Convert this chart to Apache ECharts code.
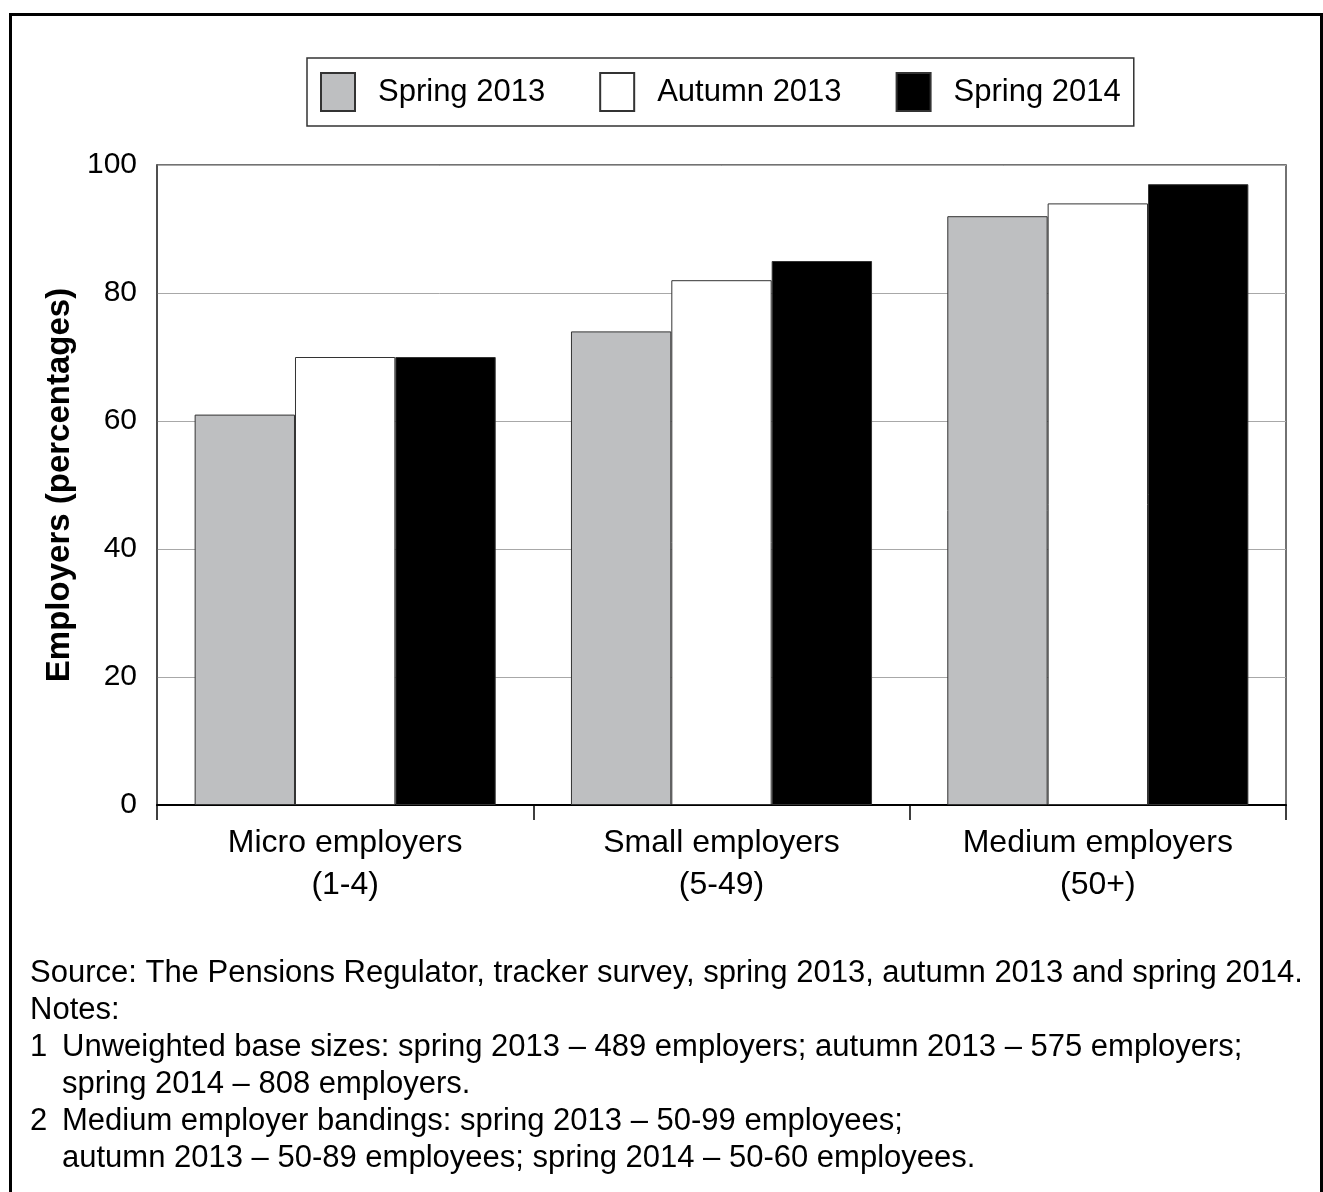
<!DOCTYPE html>
<html>
<head>
<meta charset="utf-8">
<title>Employers by size band</title>
<script src="https://cdn.jsdelivr.net/npm/echarts@6/dist/echarts.min.js"></script>
<style>
  html, body { margin: 0; padding: 0; background: #fff; }
  #chart { width: 1323px; height: 1192px; }
</style>
</head>
<body>
<div id="chart"></div>
<script>
// Employer size bands (x axis)
const categories = ['Micro employers\n(1-4)', 'Small employers\n(5-49)', 'Medium employers\n(50+)'];

// Survey waves and their values (percentage of employers)
const seriesNames = ['Spring 2013', 'Autumn 2013', 'Spring 2014'];
const spring2013 = [61, 74, 92];
const autumn2013 = [70, 82, 94];
const spring2014 = [70, 85, 97];

// Y axis scale
const yMin = 0;
const yMax = 100;
const yStep = 20;

// Source and notes under the chart
const sourceLine = 'Source: The Pensions Regulator, tracker survey, spring 2013, autumn 2013 and spring 2014.';
const notesHeading = 'Notes:';
const noteNumbers = ['1', '2'];
const noteLines = [
  ['Unweighted base sizes: spring 2013 \u2013 489 employers; autumn 2013 \u2013 575 employers;',
   'spring 2014 \u2013 808 employers.'],
  ['Medium employer bandings: spring 2013 \u2013 50-99 employees;',
   'autumn 2013 \u2013 50-89 employees; spring 2014 \u2013 50-60 employees.']
];

const FONT = "'Liberation Sans', Arial, Helvetica, sans-serif";
const fills = ['#bebfc1', '#ffffff', '#000000'];
const values = [spring2013, autumn2013, spring2014];

const chart = echarts.init(document.getElementById('chart'), null, { renderer: 'canvas' });

// Footer text elements
const footer = [];
const textStyleBase = { fontFamily: FONT, fontSize: 31, fill: '#000' };
let y = 973;
const lineStep = 37;
function footText(x, yc, text) {
  footer.push({ type: 'text', x: x, y: yc, style: Object.assign({ text: text, verticalAlign: 'middle' }, textStyleBase) });
}
footText(30, y, sourceLine);
y += lineStep;
footText(30, y, notesHeading);
y += lineStep;
noteLines.forEach((lines, i) => {
  footText(30, y, noteNumbers[i]);
  lines.forEach((ln) => {
    footText(62, y, ln);
    y += lineStep;
  });
});

const option = {
  backgroundColor: '#ffffff',
  animation: false,
  textStyle: { fontFamily: FONT, color: '#000' },
  legend: {
    data: seriesNames,
    left: 307,
    top: 58,
    padding: [14, 13, 14, 13],
    itemGap: 54,
    itemWidth: 34,
    itemHeight: 38,
    borderColor: '#333',
    borderWidth: 1.5,
    selectedMode: false,
    icon: 'rect',
    textStyle: { fontFamily: FONT, fontSize: 31, color: '#000', padding: [0, 0, 6, 18] }
  },
  grid: {
    left: 157,
    right: 37,
    top: 165,
    bottom: 387,
    show: true,
    borderColor: '#444',
    borderWidth: 1.5,
    backgroundColor: 'transparent'
  },
  xAxis: {
    type: 'category',
    data: categories,
    axisLine: { show: true, lineStyle: { color: '#000', width: 2 } },
    axisTick: { show: true, length: 15, interval: 0, lineStyle: { color: '#000', width: 1.5 } },
    axisLabel: { interval: 0, fontFamily: FONT, fontSize: 32, color: '#000', lineHeight: 42, margin: 17 },
    splitLine: { show: false }
  },
  yAxis: {
    type: 'value',
    min: yMin,
    max: yMax,
    interval: yStep,
    name: 'Employers (percentages)',
    nameLocation: 'middle',
    nameGap: 76,
    nameTextStyle: { fontFamily: FONT, fontSize: 33, fontWeight: 'bold', color: '#000' },
    axisLine: { show: true, lineStyle: { color: '#444', width: 1.5 } },
    axisTick: { show: false },
    axisLabel: { fontFamily: FONT, fontSize: 30, color: '#000', margin: 20 },
    splitLine: { show: true, lineStyle: { color: '#a8a8a8', width: 1 } }
  },
  series: seriesNames.map((name, i) => ({
    name: name,
    type: 'bar',
    data: values[i],
    barGap: '0%',
    barCategoryGap: '20%',
    itemStyle: { color: fills[i], borderColor: '#333', borderWidth: 1 }
  })),
  graphic: [
    // Outer frame around the figure
    {
      type: 'rect',
      shape: { x: 10.5, y: 14.5, width: 1311, height: 1200 },
      style: { fill: 'none', stroke: '#000', lineWidth: 3 },
      silent: true
    }
  ].concat(footer)
};

chart.setOption(option);
</script>
</body>
</html>
